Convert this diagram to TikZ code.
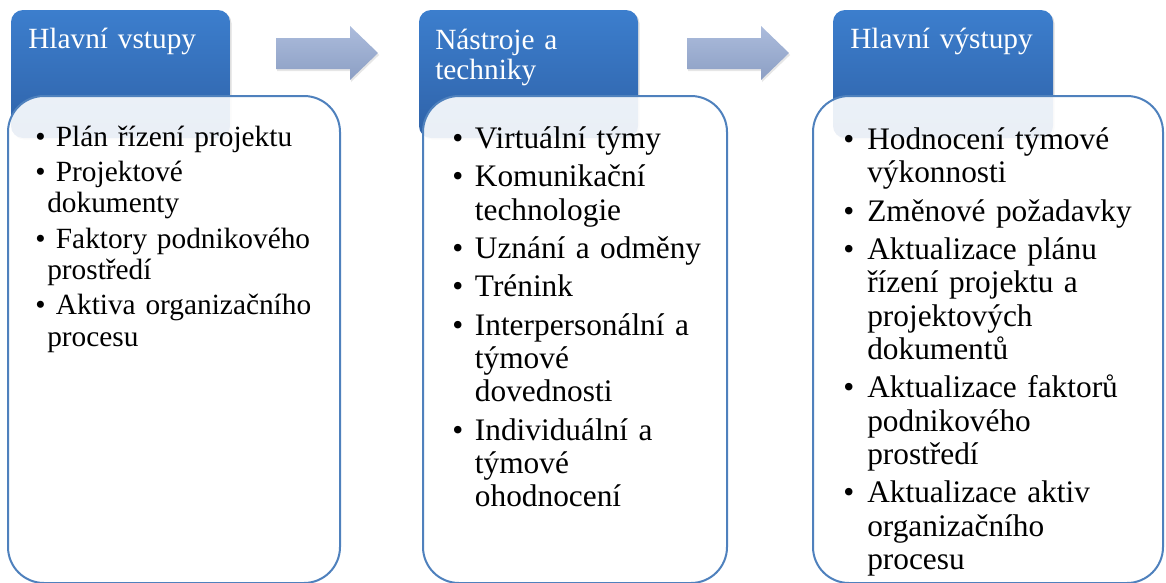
\documentclass[tikz,border=0pt]{standalone}
\usepackage{fontspec}
\setmainfont{Liberation Serif}
\usetikzlibrary{shadows}

\definecolor{hlavicka1}{RGB}{60,126,205}
\definecolor{hlavicka2}{RGB}{47,98,168}
\definecolor{ramecek}{RGB}{79,129,189}
\definecolor{sipka1}{RGB}{172,188,220}
\definecolor{sipka2}{RGB}{140,159,196}

\newlength{\odsaz}
\newlength{\mezera}
\newcommand{\polozka}[1]{\par\hangindent=\odsaz\hangafter=1\noindent\makebox[\odsaz][l]{\textbullet}\strut#1\par\vspace{\mezera}}
% blokova sipka od x
\newcommand{\sipka}[1]{\path[sipkaok] (#1,38) -- ++(74,0) -- ++(0,-12) -- ++(28,27) -- ++(-28,27) -- ++(0,-11) -- ++(-74,0) -- cycle;}

\tikzset{
  hlavicka/.style={rounded corners=9pt, top color=hlavicka1, bottom color=hlavicka2,
    drop shadow={opacity=0.25, shadow xshift=1.2pt, shadow yshift=-1.2pt}},
  telo/.style={rounded corners=27pt, draw=ramecek, line width=1.5pt, fill=white, fill opacity=0.9},
  nadpis/.style={anchor=north west, inner sep=0pt, text=white, text width=190pt, align=left,
    font=\fontsize{22}{22.5}\selectfont},
  seznam/.style={anchor=north west, inner sep=0pt, text width=#1, align=left},
  sipkaok/.style={top color=sipka1, bottom color=sipka2,
    drop shadow={opacity=0.2, shadow xshift=0.8pt, shadow yshift=-1.5pt}}
}

\begin{document}
\begin{tikzpicture}[x=0.75pt,y=-0.75pt]
\useasboundingbox (0,0) rectangle (1166,582);

% hlavicky
\path[hlavicka] (11,10) rectangle (230,138);
\path[hlavicka] (419,10) rectangle (638,138);
\path[hlavicka] (833,10) rectangle (1053,138);

% sipky mezi sloupci
\sipka{276}
\sipka{687}

% bile ramecky pres hlavicky
\path[telo] (8,96) rectangle (340,583);
\path[telo] (423,96) rectangle (727,583);
\path[telo] (813,96) rectangle (1163,583);

\node[nadpis] (nadpisA) at (28,27) {\strut Hlavní vstupy};
\node[nadpis] (nadpisB) at (435,28) {\strut Nástroje a\newline techniky};
\node[nadpis] (nadpisC) at (850,27) {\strut Hlavní výstupy};

\node[seznam=230pt, font=\fontsize{22}{23.5}\selectfont] (vstupy) at (35,114.5) {%
  \setlength{\odsaz}{9pt}\setlength{\mezera}{3pt}%
  \polozka{\hspace{6.5pt}Plán řízení projektu}
  \polozka{\hspace{6.5pt}Projektové\newline dokumenty}
  \polozka{\hspace{6.5pt}Faktory podnikového\newline prostředí}
  \polozka{\hspace{6.5pt}Aktiva organizačního\newline procesu}};

\node[seznam=205pt, font=\fontsize{23.5}{25}\selectfont] (nastroje) at (452,115) {%
  \setlength{\odsaz}{17pt}\setlength{\mezera}{3.75pt}%
  \polozka{Virtuální týmy}
  \polozka{Komunikační\newline technologie}
  \polozka{Uznání a odměny}
  \polozka{Trénink}
  \polozka{Interpersonální a\newline týmové\newline dovednosti}
  \polozka{Individuální a\newline týmové\newline ohodnocení}};

\node[seznam=240pt, font=\fontsize{23.5}{25}\selectfont] (vystupy) at (843,116) {%
  \setlength{\odsaz}{18pt}\setlength{\mezera}{3.75pt}%
  \polozka{Hodnocení týmové\newline výkonnosti}
  \polozka{Změnové požadavky}
  \polozka{Aktualizace plánu\newline řízení projektu a\newline projektových\newline dokumentů}
  \polozka{Aktualizace faktorů\newline podnikového\newline prostředí}
  \polozka{Aktualizace aktiv\newline organizačního\newline procesu}};
\end{tikzpicture}
\end{document}
